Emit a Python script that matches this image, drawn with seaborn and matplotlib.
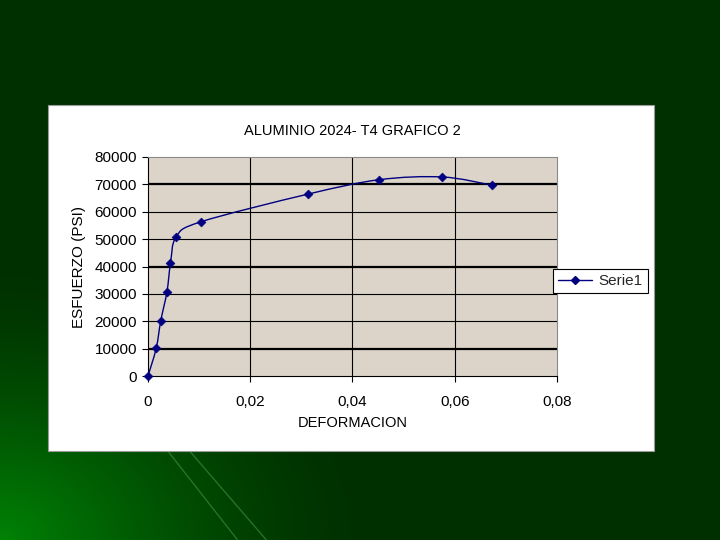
import numpy as np
import matplotlib
matplotlib.use("Agg")
import matplotlib.pyplot as plt
import seaborn as sns
from matplotlib.path import Path
from matplotlib.patches import PathPatch, Rectangle
from matplotlib.lines import Line2D

# data
deformacion = [0.0, 0.0016, 0.0025, 0.0037, 0.0044, 0.0055, 0.0103, 0.0312, 0.0452, 0.0576, 0.0673]
esfuerzo = [0, 10100, 20200, 30700, 41100, 50800, 56300, 66400, 71700, 72700, 69700]
x_ticks = [0, 0.02, 0.04, 0.06, 0.08]
x_tick_labels = ["0", "0,02", "0,04", "0,06", "0,08"]
y_ticks = list(range(0, 80001, 10000))
thick_grid = [10000, 40000, 70000]

navy = "#000080"

sns.set_theme(style="white")
plt.rcParams["font.family"] = ["Liberation Sans", "DejaVu Sans"]

fig = plt.figure(figsize=(7.2, 5.4), dpi=100)

# slide background: dark green with a lighter glow at the bottom left
bg = fig.add_axes([0, 0, 1, 1], zorder=-10)
gy, gx = np.mgrid[0:1:270j, 0:1:360j]
dist = np.sqrt((gx / 0.5) ** 2 + ((1 - gy) / 0.5) ** 2)
glow = np.clip(1 - dist, 0, 1) ** 1.4
img = np.zeros(gx.shape + (3,))
img[..., 1] = 0.19 + 0.32 * glow
img[..., 2] = 0.02 * glow
bg.imshow(img, extent=[0, 1, 0, 1], origin="upper", aspect="auto")
for x0, x1 in [(0.23, 0.33), (0.26, 0.37)]:
    bg.plot([x0, x1], [0.17, 0.0], color="#4fa04f", lw=1.0, alpha=0.5)
bg.set_xlim(0, 1)
bg.set_ylim(0, 1)
bg.axis("off")

# white chart box
fig.patches.append(Rectangle((48 / 720, 1 - 451 / 540), 606 / 720, 346 / 540,
                             transform=fig.transFigure, facecolor="white",
                             edgecolor="#9a9a9a", lw=0.8, zorder=-5))

ax = fig.add_axes([148 / 720, 1 - 376 / 540, 409 / 720, 219 / 540])
ax.set_facecolor("#dcd4c9")

# smooth curve through the points (Catmull-Rom as cubic Bezier)
pts = np.column_stack([deformacion, esfuerzo]).astype(float)
verts = [pts[0]]
codes = [Path.MOVETO]
for i in range(len(pts) - 1):
    p0 = pts[i - 1] if i > 0 else pts[i]
    p1, p2 = pts[i], pts[i + 1]
    p3 = pts[i + 2] if i + 2 < len(pts) else pts[i + 1]
    verts += [p1 + (p2 - p0) / 6, p2 - (p3 - p1) / 6, p2]
    codes += [Path.CURVE4] * 3
ax.add_patch(PathPatch(Path(verts, codes), facecolor="none", edgecolor=navy, lw=1.0, zorder=4))

sns.scatterplot(x=deformacion, y=esfuerzo, marker="D", s=20, color=navy,
                edgecolor=navy, linewidth=0.5, ax=ax, zorder=5, legend=False,
                clip_on=False)

ax.set_xlim(0, 0.08)
ax.set_ylim(0, 80000)
ax.set_xticks(x_ticks)
ax.set_xticklabels(x_tick_labels)
ax.set_yticks(y_ticks)
ax.set_yticklabels([str(v) for v in y_ticks])

for v in y_ticks[1:-1]:
    ax.axhline(v, color="black", lw=1.6 if v in thick_grid else 0.8, zorder=1)
for v in x_ticks[1:-1]:
    ax.axvline(v, color="black", lw=0.8, zorder=1)

for side in ["top", "right"]:
    ax.spines[side].set_color("#8a8a8a")
    ax.spines[side].set_linewidth(0.8)
for side in ["left", "bottom"]:
    ax.spines[side].set_color("black")
    ax.spines[side].set_linewidth(0.8)

ax.tick_params(axis="both", which="major", direction="out", length=4, width=0.8,
               color="black", labelsize=11, labelcolor="black", pad=4)
ax.tick_params(axis="x", pad=10)
ax.tick_params(left=True, bottom=True)

ax.set_xlabel("DEFORMACION", fontsize=10.5, color="black", labelpad=5)
ax.set_ylabel("ESFUERZO (PSI)", fontsize=11, color="black", labelpad=6)
ax.set_title("ALUMINIO 2024- T4 GRAFICO 2", fontsize=10.5, color="black", pad=16)

handle = Line2D([], [], color=navy, lw=1.0, marker="D", markersize=4)
leg = fig.legend([handle], ["Serie1"], loc="center left",
                 bbox_to_anchor=(553 / 720, 1 - 281 / 540), fontsize=11,
                 frameon=True, fancybox=False, handlelength=2.2,
                 borderpad=0.35, handletextpad=0.4, borderaxespad=0)
leg.get_frame().set_edgecolor("black")
leg.get_frame().set_linewidth(0.8)
leg.get_frame().set_facecolor("white")
leg.get_frame().set_alpha(1)

fig.savefig("out.png", dpi=100)
